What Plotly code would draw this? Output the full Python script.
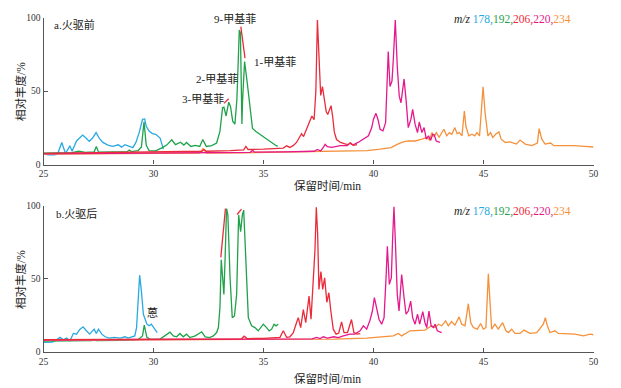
import plotly.graph_objects as go

# Page has an 8px body margin; draw in reference pixel coordinates and shift.
W0, H0 = 621, 388
OFF = 8
W, H = W0 - OFF, H0 - OFF

# ---------------- Panel a (火驱前) ----------------
a178_x = [25, 25.2, 25.5, 25.65, 25.83, 26.0, 26.2, 26.3, 26.5, 26.64, 26.78, 26.93, 27.08, 27.23, 27.39, 27.54, 27.7, 27.93, 28.15, 28.4, 28.55, 28.7, 28.9, 29.06, 29.2, 29.35, 29.5, 29.6, 29.67, 29.8, 29.95, 30.1, 30.3, 30.4, 30.45]
a178_y = [7.8, 6.6, 6.5, 7.5, 15, 7.5, 12.7, 9, 16, 17.7, 20, 18, 15.7, 18, 21.7, 17.7, 15, 13.2, 12.3, 13.4, 11.8, 13.5, 12.6, 11.5, 15, 21.7, 30.7, 31, 26, 22.7, 21, 20.5, 18, 11.5, 10.5]

a192_x = [25, 26.3, 26.6, 26.9, 27.3, 27.4, 27.5, 28.3, 28.8, 28.9, 29.0, 29.3, 29.45, 29.57, 29.67, 29.8, 30.1, 30.4, 30.6, 30.83, 31.0, 31.23, 31.38, 31.5, 31.7, 31.9, 32.1, 32.24, 32.4, 32.65, 32.87, 33.02, 33.14, 33.2, 33.3, 33.42, 33.5, 33.6, 33.7, 33.79, 33.9, 33.95, 34.02, 34.05, 34.14, 34.26, 34.38, 34.5, 34.67, 34.97, 35.27, 35.58, 35.65]
a192_y = [7.8, 8.0, 9.0, 8.2, 8.5, 12.3, 8.4, 8.6, 8.7, 9.8, 8.8, 9.5, 12, 29, 13, 9.5, 9.3, 11.5, 13.2, 16.8, 13.5, 15.2, 13.2, 15, 12.3, 13, 12.3, 17, 12.3, 12.8, 14.6, 22.5, 38.6, 39, 33, 42.4, 39.5, 29.5, 27.5, 44, 91.5, 89.5, 27.5, 44, 70, 55.7, 40, 24.5, 22.3, 19, 15.8, 12.8, 12.5]

a206_x = [25, 27, 29, 31, 32.2, 32.3, 32.4, 33.5, 34.1, 34.2, 34.3, 35, 35.6, 35.9, 36.05, 36.2, 36.36, 36.5, 36.63, 36.73, 36.82, 36.96, 37.1, 37.2, 37.3, 37.38, 37.45, 37.53, 37.6, 37.68, 37.77, 37.85, 37.92, 38.0, 38.07, 38.14, 38.22, 38.32, 38.5, 38.7, 38.85, 38.95, 39.1, 39.25,
          None, 33.2, 33.42, None, 33.97, 34.16]
a206_y = [7.6, 7.9, 8.2, 8.6, 9.0, 10.2, 9.0, 9.4, 9.9, 12.3, 10.2, 10.4, 10.8, 11.2, 12.7, 11.6, 13, 15, 18.4, 21, 19, 24, 29, 33, 30.5, 50, 98.3, 75, 47, 53, 42, 36, 34, 37, 40, 33, 22, 17, 15, 14, 13.5, 14.8, 13, 13.5,
          None, 41.6, 44.7, None, 93.8, 72.4]

a220_x = [25, 28, 31, 33, 34.4, 34.5, 34.6, 36, 37.3, 37.45, 37.6, 37.72, 37.8, 37.9, 38.1, 38.5, 38.8, 38.93, 39.05, 39.3, 39.55, 39.77, 39.92, 40.0, 40.11, 40.2, 40.3, 40.43, 40.55, 40.67, 40.75, 40.84, 40.9, 40.99, 41.08, 41.17, 41.25, 41.39, 41.48, 41.58, 41.7, 41.78, 41.89, 42.0, 42.08, 42.2, 42.3, 42.4, 42.5, 42.6, 42.69, 42.76, 42.85, 43.02]
a220_y = [7.3, 7.5, 7.8, 8.0, 8.3, 9.6, 8.4, 8.6, 9.0, 10.2, 9.2, 11.6, 13.7, 12.2, 11.6, 12.8, 12.8, 14.6, 13.2, 15, 17.2, 19.5, 25.1, 30.8, 34.8, 30.8, 24, 22.9, 28.5, 76.9, 53, 56.8, 71.3, 98.3, 66.8, 46.5, 42, 58.2, 44, 25.1, 30.8, 37.5, 27.4, 21.7, 28.9, 21.7, 25.1, 17.2, 19.5, 16.5, 20.6, 20.3, 16, 15]

a234_x = [25, 28, 31, 32.1, 32.25, 32.4, 34, 36, 37.5, 38.5, 39.3, 39.7, 40.3, 40.8, 41.1, 41.35, 41.6, 41.9, 42.2, 42.42, 42.55, 42.65, 42.75, 42.86, 42.98, 43.1, 43.2, 43.33, 43.45, 43.56, 43.7, 43.8, 43.9, 44.02, 44.13, 44.2, 44.33, 44.48, 44.6, 44.7, 44.82, 44.98, 45.07, 45.2, 45.32, 45.42, 45.55, 45.7, 45.8, 46.0, 46.2, 46.5, 46.66, 46.9, 47.2, 47.45, 47.53, 47.65, 47.8, 48.05, 48.2, 48.5, 48.8, 49.1, 49.6, 50.0]
a234_y = [7.0, 7.2, 7.5, 7.8, 10.8, 7.8, 8.0, 8.4, 8.8, 9.2, 9.3, 9.5, 10.4, 11.5, 13.9, 15.4, 16, 16, 17.2, 18.3, 16.6, 21.7, 19, 21.7, 18.5, 21.7, 24, 19.5, 21.7, 20.6, 25.1, 21, 21.7, 19.5, 36.4, 26, 19.5, 20.6, 19.5, 21.7, 19.5, 52.8, 35.4, 19.5, 21.7, 18.3, 20.6, 22.2, 17.2, 15, 15.4, 13.9, 16.6, 13.9, 12.8, 14.6, 24.4, 17.2, 13.9, 14.6, 12.8, 12.8, 13, 12.8, 12.3, 11.9]

# ---------------- Panel b (火驱后) ----------------
b178_x = [25, 25.4, 25.6, 25.75, 25.9, 26.05, 26.2, 26.36, 26.5, 26.66, 26.8, 26.88, 26.95, 27.1, 27.3, 27.4, 27.5, 27.65, 27.8, 28.0, 28.2, 28.5, 28.7, 28.85, 29.0, 29.15, 29.23, 29.3, 29.37, 29.45, 29.54, 29.7, 29.8, 29.9, 30.0, 30.14, 30.17]
b178_y = [6.6, 6.8, 8.4, 10, 8.4, 9.5, 7.7, 12.7, 12.2, 15.6, 17.2, 15.6, 14.5, 12.2, 15.6, 12.7, 15.6, 12.2, 10.4, 9.5, 10, 9.5, 10.4, 9.5, 10, 11, 16.7, 39.4, 52.5, 41.6, 25.8, 19, 17.9, 19, 16.7, 14, 13.3]

b192_x = [25, 26.5, 27.2, 27.3, 27.4, 28.5, 29.3, 29.5, 29.58, 29.7, 29.85, 30.3, 30.52, 30.75, 30.9, 31.05, 31.2, 31.35, 31.5, 31.65, 31.9, 32.19, 32.35, 32.55, 32.72, 32.87, 32.95, 33.02, 33.08, 33.13, 33.2, 33.26, 33.32, 33.38, 33.48, 33.58, 33.68, 33.78, 33.87, 33.96, 34.04, 34.1, 34.19, 34.31, 34.46, 34.61, 34.76, 34.99, 35.14, 35.26, 35.37, 35.48, 35.57, 35.67]
b192_y = [7.5, 7.6, 7.8, 8.6, 7.8, 8.0, 8.4, 11, 18.3, 10, 8.6, 8.8, 11, 13.6, 11, 10.4, 12.7, 10.4, 12.2, 9.9, 11, 13.8, 10.4, 9.9, 11, 13.3, 16.7, 30.3, 63, 55, 39.4, 66.5, 98, 93.7, 50.7, 23.5, 24.6, 39.4, 93.7, 82.3, 93.7, 97, 62, 23.5, 17.9, 16.7, 14.5, 19, 16.7, 14.5, 15.6, 19, 17.9, 19]

b206_x = [25, 28, 31, 33, 34.0, 34.12, 34.25, 35.0, 35.75, 35.9, 36.05, 36.2, 36.35, 36.5, 36.58, 36.69, 36.81, 36.92, 37.07, 37.16, 37.26, 37.34, 37.4, 37.46, 37.52, 37.61, 37.69, 37.78, 37.88, 37.97, 38.07, 38.17, 38.3, 38.42, 38.55, 38.66, 38.82, 39.0, 39.11, 39.25, 39.4,
          None, 33.06, 33.15, 33.27, None, 33.8, 34.0]
b206_y = [8.4, 8.5, 8.6, 8.8, 9.0, 10.8, 9.2, 9.3, 10, 14.5, 10, 10.4, 13, 20, 23.5, 16.7, 29, 20, 38.2, 22.4, 47.3, 70, 99, 81, 42.8, 55, 42.8, 50.7, 34, 40.5, 27, 15.6, 12.2, 13, 20.6, 13.3, 13.3, 22.2, 13.3, 12.2, 12.5,
          None, 64.7, 80, 98, None, 94, 97.7]

b220_x = [25, 28, 31, 33, 34.5, 36, 37.2, 37.42, 37.57, 37.72, 37.9, 38.2, 38.4, 38.63, 38.93, 39.15, 39.39, 39.54, 39.69, 39.84, 39.95, 40.04, 40.14, 40.25, 40.37, 40.48, 40.57, 40.63, 40.72, 40.81, 40.87, 40.93, 41.0, 41.08, 41.16, 41.28, 41.39, 41.48, 41.58, 41.69, 41.78, 41.89, 42.0, 42.1, 42.24, 42.34, 42.42, 42.52, 42.62, 42.72, 42.8, 42.9, 43.1]
b220_y = [8.2, 8.3, 8.4, 8.5, 8.7, 8.8, 9.0, 10, 9.2, 10.4, 9.5, 10.4, 9.9, 11, 12.2, 12.2, 14.5, 17.9, 15.6, 21.7, 28, 37.1, 29.2, 22.4, 19, 23.5, 50.7, 72.2, 46.2, 50.7, 77.8, 99.3, 73.3, 39.4, 28, 53, 37.1, 25.8, 28, 34.8, 23.5, 19, 25.8, 19, 27.6, 20, 16.7, 28, 17.9, 16.7, 19, 14.5, 13.3]

b234_x = [25, 28, 31, 34, 36.66, 38.2, 39.69, 40.45, 40.9, 41.13, 41.28, 41.66, 41.95, 42.34, 42.64, 42.8, 42.95, 43.1, 43.28, 43.4, 43.55, 43.7, 43.89, 44.01, 44.16, 44.31, 44.42, 44.54, 44.72, 44.87, 44.99, 45.11, 45.22, 45.3, 45.37, 45.52, 45.67, 45.87, 46.02, 46.13, 46.28, 46.43, 46.66, 46.84, 47.11, 47.42, 47.6, 47.72, 47.81, 47.9, 48.02, 48.25, 48.4, 48.78, 49.16, 49.54, 49.84, 50.0]
b234_y = [8.0, 8.2, 8.4, 8.6, 8.4, 8.8, 9.5, 10.4, 11.0, 12.7, 11.0, 14.5, 14.5, 15, 17.9, 16.7, 19, 17.9, 21.3, 17.9, 20.8, 18.3, 24, 19, 17.9, 33, 20, 16.7, 15.6, 19.5, 15.6, 16.7, 53.4, 32.6, 15.6, 19, 15.6, 20, 14.5, 13.3, 15.6, 12.7, 12.7, 15, 12.7, 13.3, 16.7, 19, 23.5, 18, 13.3, 14.5, 12.7, 12.2, 12.2, 11, 12.2, 11.8]

colors = {"178": "#29A9E1", "192": "#1FA24A", "206": "#EA2B3A", "220": "#E5188C", "234": "#F5913A"}

panels = [
    ("x", "y", [("178", a178_x, a178_y), ("192", a192_x, a192_y), ("234", a234_x, a234_y), ("220", a220_x, a220_y), ("206", a206_x, a206_y)]),
    ("x2", "y2", [("178", b178_x, b178_y), ("192", b192_x, b192_y), ("234", b234_x, b234_y), ("220", b220_x, b220_y), ("206", b206_x, b206_y)]),
]

fig = go.Figure()
for xa, ya, series in panels:
    for mz, xs, ys in series:
        fig.add_trace(go.Scatter(x=xs, y=ys, mode="lines", xaxis=xa, yaxis=ya,
                                 line=dict(color=colors[mz], width=1.3),
                                 connectgaps=False, showlegend=False, hoverinfo="skip"))

FONT = "Liberation Serif, Noto Sans CJK SC, serif"
axis_common = dict(range=[25, 50], showline=True, linecolor="#555", linewidth=1.3, ticks="inside",
                   ticklen=4, tickcolor="#555", tickwidth=1, showgrid=False, zeroline=False,
                   automargin=False,
                   tickvals=[25, 30, 35, 40, 45, 50], tickfont=dict(family=FONT, size=9.5, color="#333"))
yaxis_common = dict(range=[0, 100], showline=True, linecolor="#555", linewidth=1.3, ticks="inside",
                    ticklen=4, tickcolor="#555", tickwidth=1, showgrid=False, zeroline=False,
                    automargin=False,
                    tickvals=[0, 50, 100], tickfont=dict(family=FONT, size=9.5, color="#333"))

def fx(px):
    return (px - OFF) / W

def fy(py):
    return 1 - (py - OFF) / H

xd = [fx(43.5), fx(593.5)]
fig.update_layout(
    template="none",
    width=W, height=H, margin=dict(l=0, r=0, t=0, b=0, pad=0),
    paper_bgcolor="white", plot_bgcolor="white",
    xaxis=dict(domain=xd, anchor="y", **axis_common),
    yaxis=dict(domain=[fy(164.5), fy(17.5)], anchor="x", **yaxis_common),
    xaxis2=dict(domain=xd, anchor="y2", **axis_common),
    yaxis2=dict(domain=[fy(352), fy(205.7)], anchor="x2", **yaxis_common),
)

def ann(text, px, py, size=11, xanchor="center", angle=0, color="#222", family=FONT):
    fig.add_annotation(text=text, x=fx(px), y=fy(py), xref="paper", yref="paper",
                       xanchor=xanchor, yanchor="middle", showarrow=False, textangle=angle,
                       font=dict(family=family, size=size, color=color))

legend = ("<i>m/z</i> "
          f"<span style='color:{colors['178']}'>178,</span>"
          f"<span style='color:{colors['192']}'>192,</span>"
          f"<span style='color:{colors['206']}'>206,</span>"
          f"<span style='color:{colors['220']}'>220,</span>"
          f"<span style='color:{colors['234']}'>234</span>")

ann("a.火驱前", 52, 24, xanchor="left")
ann("b.火驱后", 54, 214, xanchor="left")
ann(legend, 452, 20, size=11.5, xanchor="left")
ann(legend, 452, 211, size=11.5, xanchor="left")
ann("9-甲基菲", 235, 19)
ann("1-甲基菲", 252, 62, xanchor="left")
ann("2-甲基菲", 194, 79, xanchor="left")
ann("3-甲基菲", 180, 99, xanchor="left")
ann("蒽", 152.7, 313, size=11)
ann("保留时间/min", 327, 185, size=11.5)
ann("保留时间/min", 327, 378, size=11.5)
ann("相对丰度/%", 20, 92, size=11.5, angle=-90)
ann("相对丰度/%", 20, 280, size=11.5, angle=-90)

fig.write_html("out.html")
